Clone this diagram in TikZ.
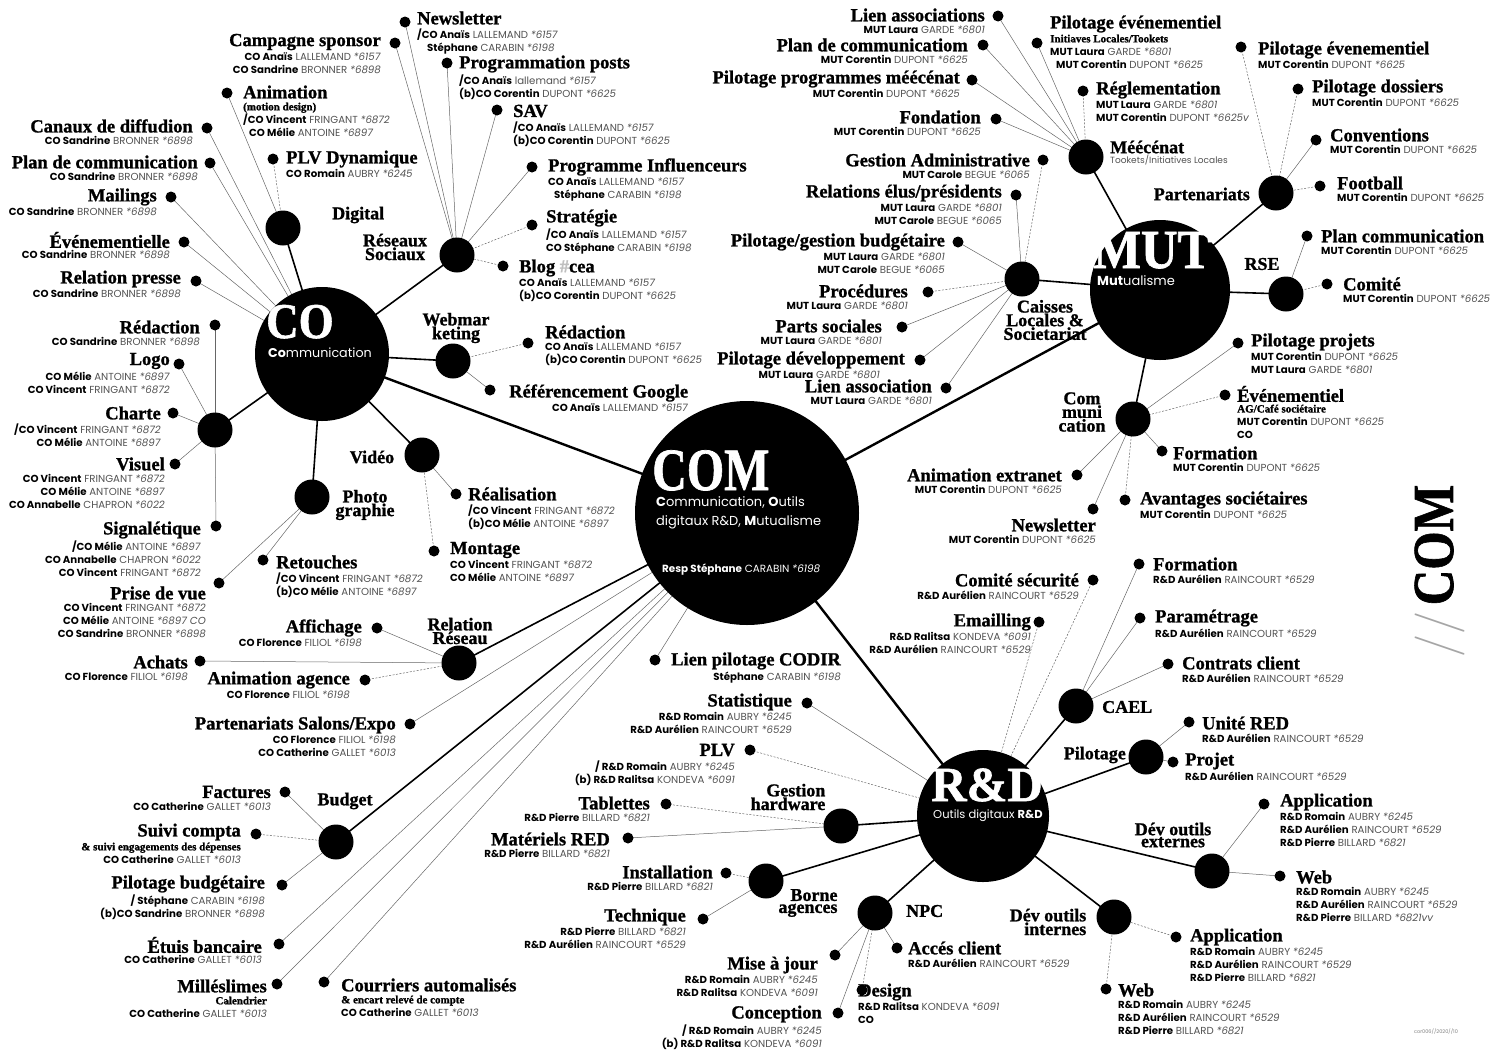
\documentclass[tikz,border=0pt]{standalone}
\usepackage{fontspec}
\setsansfont{Poppins}
\newfontfamily\ttlf{Liberation Serif}[BoldFeatures={FakeBold=1.2}]
\usetikzlibrary{calc}
\definecolor{sg}{gray}{0.32}
\pgfdeclarelayer{bg}\pgfsetlayers{bg,main}
\tikzset{
 dot/.style={circle,fill=black,inner sep=0,minimum size=11},
 hub/.style={circle,fill=black,inner sep=0,minimum size=35},
 bighub/.style={circle,fill=black,inner sep=0},
 bigword/.style={anchor=base west,inner sep=0,text=white,text depth=0pt},
 ttl/.style={inner sep=0,font=\ttlf\bfseries\fontsize{18.5}{18.5}\selectfont},
 hubl/.style={inner sep=0,align=center,font=\ttlf\bfseries\fontsize{18}{12}\selectfont},
 sub/.style={inner sep=0,font=\sffamily\fontsize{10.2}{13}\selectfont},
 lf/.style={draw=black!60,line width=0.5pt},
 lfd/.style={lf,dash pattern=on 2pt off 1.5pt},
 med/.style={line width=1.6pt},
 big/.style={line width=2.4pt},
}
\newcommand\pn[3]{\textbf{#1} {\color{sg}#2 \textit{*#3}}}
\newcommand\ser[1]{{\ttlf\bfseries\fontsize{11}{13}\selectfont #1}}
\newcommand\leafE[5]{\node[dot] (#1) at (#2) {};\node[ttl,anchor=east] (#1t) at (#3) {#4};\node[sub,anchor=north east,align=right] at ([yshift=-10.5pt]#1t.east) {#5};}
\newcommand\leafW[5]{\node[dot] (#1) at (#2) {};\node[ttl,anchor=west] (#1t) at (#3) {#4};\node[sub,anchor=north west,align=left] at ([yshift=-10.5pt]#1t.west) {#5};}
\begin{document}
\begin{tikzpicture}[x=1pt,y=-1pt]
\useasboundingbox (0,0) rectangle (1502,1050);
% ---------- big hubs
\node[bighub,minimum size=224] (com) at (747,513) {};
\node[bighub,minimum size=134] (co) at (322,354) {};
\node[bighub,minimum size=140] (mut) at (1160,290) {};
\node[bighub,minimum size=132] (rnd) at (983,816) {};
\node[bigword,font=\ttlf\bfseries\fontsize{60}{60}\selectfont] (comT) at (652,490) {\scalebox{0.8}[1]{COM}};
\node[bigword,font=\sffamily\fontsize{13}{13}\selectfont] (comS1) at (656,506) {\textbf{C}ommunication, \textbf{O}utils};
\node[bigword,font=\sffamily\fontsize{13}{13}\selectfont] (comS2) at (656,525) {digitaux R\&D, \textbf{M}utualisme};
\node[bigword,font=\sffamily\fontsize{10.4}{11}\selectfont] (comS3) at (662,572) {\textbf{Resp Stéphane} CARABIN \textit{*6198}};
\node[bigword,font=\ttlf\bfseries\fontsize{50}{50}\selectfont] (coT) at (266,338) {\scalebox{0.9}[1]{CO}};
\node[bigword,font=\sffamily\fontsize{12.7}{12.7}\selectfont] (coS) at (268,357) {\textbf{Co}mmunication};
\node[bigword,font=\ttlf\bfseries\fontsize{55}{55}\selectfont] (mutT) at (1093,268) {\scalebox{0.92}[1]{MUT}};
\node[bigword,font=\sffamily\fontsize{13}{13}\selectfont] (mutS) at (1097,285) {\textbf{Mut}ualisme};
\node[bigword,font=\ttlf\bfseries\fontsize{49}{49}\selectfont] (rndT) at (931,801) {R\&D};
\node[bigword,font=\sffamily\fontsize{11.5}{11.5}\selectfont] (rndS) at (933,818) {Outils digitaux \textbf{R\&D}};
% ---------- sub hubs
\node[hub] (dig) at (283,228) {};
\node[hub] (res) at (457,255) {};
\node[hub] (web) at (453,361) {};
\node[hub] (vid) at (422,455) {};
\node[hub] (pho) at (312,497) {};
\node[hub] (chc) at (215,430) {};
\node[hub] (rel) at (459,663) {};
\node[hub] (bud) at (336,842) {};
\node[hub] (mec) at (1086,157) {};
\node[hub] (par) at (1276,193) {};
\node[hub] (rse) at (1286,294) {};
\node[hub] (cai) at (1022,279) {};
\node[hub] (mcom) at (1133,419) {};
\node[hub] (cael) at (1076,706) {};
\node[hub] (pil) at (1146,757) {};
\node[hub] (dext) at (1212,871) {};
\node[hub] (dint) at (1114,917) {};
\node[hub] (npc) at (875,913) {};
\node[hub] (bor) at (766,881) {};
\node[hub] (ghw) at (841,826) {};
% hub labels
\node[hubl,anchor=west] (digL) at (332,215) {Digital};
\node[hubl] (resL) at (395,247) {Réseaux\\Sociaux};
\node[hubl] (webL) at (456,328) {Webmar\\keting};
\node[hubl] (vidL) at (372,457) {Vidéo};
\node[hubl] (phoL) at (365,505) {Photo\\graphie};
\node[hubl] (relL) at (460,631) {Relation\\Réseau};
\node[hubl] (budL) at (345,801) {Budget};
\node[hubl,anchor=west] (mecL) at (1110,147) {Méécénat};
\node[sub,anchor=north west,text=sg,font=\sffamily\fontsize{9}{10}\selectfont] (mecS) at (1110,155) {Tookets/Initiatives Locales};
\node[hubl,anchor=east] (parL) at (1250,194) {Partenariats};
\node[hubl] (rseL) at (1262,264) {RSE};
\node[hubl] (caiL) at (1045,320) {Caisses\\Locales \&\\Societariat};
\node[hubl] (mcomL) at (1082,412) {Com\\muni\\cation};
\node[hubl,anchor=west] (caelL) at (1102,707) {CAEL};
\node[hubl,anchor=east] (pilL) at (1126,755) {Pilotage};
\node[hubl] (dextL) at (1173,835) {Dév outils\\externes};
\node[hubl,align=right] (dintL) at (1048,922) {Dév outils\\internes};
\node[hubl,anchor=west] (npcL) at (906,911) {NPC};
\node[hubl,align=right] (borL) at (808,903) {Borne\\agences};
\node[hubl,align=right] (ghwL) at (788,797) {Gestion\\hardware};
% ---------- CO leaves
\leafE{cs}{395,43}{381,42}{Campagne sponsor}{\pn{CO Anaïs}{LALLEMAND}{6157}\\\pn{CO Sandrine}{BRONNER}{6898}}
\leafW{anim}{227,93}{243,92}{Animation}{\ser{(motion design)}\\\pn{/CO Vincent}{FRINGANT}{6872}\\\hspace*{6pt}\pn{CO Mélie}{ANTOINE}{6897}}
\leafE{can}{207,128}{193,126}{Canaux de diffudion}{\pn{CO Sandrine}{BRONNER}{6898}}
\leafE{plan}{210,163}{198,162}{Plan de communication}{\pn{CO Sandrine}{BRONNER}{6898}}
\leafE{mail}{171,197}{157,197}{Mailings}{\pn{CO Sandrine}{BRONNER}{6898}}
\leafE{eve}{184,242}{170,240}{Événementielle}{\pn{CO Sandrine}{BRONNER}{6898}}
\leafE{rp}{196,281}{181,279}{Relation presse}{\pn{CO Sandrine}{BRONNER}{6898}}
\leafW{plvd}{273,159}{286,159}{PLV Dynamique}{\pn{CO Romain}{AUBRY}{6245}}
\leafE{red}{215,325}{200,327}{Rédaction}{\pn{CO Sandrine}{BRONNER}{6898}}
\leafE{logo}{179,364}{170,361}{Logo}{\pn{CO Mélie}{ANTOINE}{6897}\\\pn{CO Vincent}{FRINGANT}{6872}}
\leafE{charte}{173,413}{161,413}{Charte}{\pn{/CO Vincent}{FRINGANT}{6872}\\\pn{CO Mélie}{ANTOINE}{6897}}
\leafE{vis}{175,464}{165,464}{Visuel}{\pn{CO Vincent}{FRINGANT}{6872}\\\pn{CO Mélie}{ANTOINE}{6897}\\\pn{CO Annabelle}{CHAPRON}{6022}}
\leafE{sig}{216,526}{201,530}{Signalétique}{\pn{/CO Mélie}{ANTOINE}{6897}\\\pn{CO Annabelle}{CHAPRON}{6022}\\\pn{CO Vincent}{FRINGANT}{6872}}
\leafW{ret}{263,560}{276,562}{Retouches}{\pn{/CO Vincent}{FRINGANT}{6872}\\\pn{(b)CO Mélie}{ANTOINE}{6897}}
\leafE{pdv}{219,583}{206,593}{Prise de vue}{\pn{CO Vincent}{FRINGANT}{6872}\\\pn{CO Mélie}{ANTOINE}{6897 CO}\\\pn{CO Sandrine}{BRONNER}{6898}}
\leafW{real}{456,494}{468,494}{Réalisation}{\pn{/CO Vincent}{FRINGANT}{6872}\\\pn{(b)CO Mélie}{ANTOINE}{6897}}
\leafW{mont}{434,551}{450,550}{Montage}{\pn{CO Vincent}{FRINGANT}{6872}\\\pn{CO Mélie}{ANTOINE}{6897}}
\leafW{wred}{528,343}{545,332}{Rédaction}{\pn{CO Anaïs}{LALLEMAND}{6157}\\\pn{(b)CO Corentin}{DUPONT}{6625}}
\node[dot] (rg) at (490,390) {};
\node[ttl,anchor=west] (rgt) at (509,393) {Référencement Google};
\node[sub,anchor=north east] (rgs) at ([yshift=-10.5pt]rgt.east) {\pn{CO Anaïs}{LALLEMAND}{6157}};
\leafW{nl}{405,22}{417,18}{Newsletter}{\pn{/CO Anaïs}{LALLEMAND}{6157}\\\hspace*{10pt}\pn{Stéphane}{CARABIN}{6198}}
\leafW{pp}{447,63}{459,64}{Programmation posts}{\pn{/CO Anaïs}{lallemand}{6157}\\\pn{(b)CO Corentin}{DUPONT}{6625}}
\leafW{sav}{497,110}{513,111}{SAV}{\pn{/CO Anaïs}{LALLEMAND}{6157}\\\pn{(b)CO Corentin}{DUPONT}{6625}}
\leafW{pi}{532,167}{548,167}{Programme Influenceurs}{\pn{CO Anaïs}{LALLEMAND}{6157}\\\hspace*{6pt}\pn{Stéphane}{CARABIN}{6198}}
\leafW{strat}{532,225}{546,218}{Stratégie}{\pn{/CO Anaïs}{LALLEMAND}{6157}\\\pn{CO Stéphane}{CARABIN}{6198}}
\leafW{blog}{503,266}{519,268}{Blog {\color{black!25}\#}cea}{\pn{CO Anaïs}{LALLEMAND}{6157}\\\pn{(b)CO Corentin}{DUPONT}{6625}}
% relation reseau, budget, COM leaves
\leafE{aff}{377,628}{362,628}{Affichage}{\pn{CO Florence}{FILIOL}{6198}}
\leafE{ach}{200,661}{188,662}{Achats}{\pn{CO Florence}{FILIOL}{6198}}
\leafE{ani}{365,680}{350,680}{Animation agence}{\pn{CO Florence}{FILIOL}{6198}}
\leafE{pse}{410,724}{396,725}{Partenariats Salons/Expo}{\pn{CO Florence}{FILIOL}{6198}\\\pn{CO Catherine}{GALLET}{6013}}
\leafE{fac}{285,792}{271,792}{Factures}{\pn{CO Catherine}{GALLET}{6013}}
\leafE{sc}{256,834}{241,832}{Suivi compta}{\ser{\& suivi engagements des dépenses}\\\pn{CO Catherine}{GALLET}{6013}}
\leafE{pb}{282,885}{265,884}{Pilotage budgétaire}{\pn{/ Stéphane}{CARABIN}{6198}\\\pn{(b)CO Sandrine}{BRONNER}{6898}}
\leafE{etu}{279,944}{262,945}{Étuis bancaire}{\pn{CO Catherine}{GALLET}{6013}}
\leafE{mil}{277,984}{267,986}{Milléslimes}{\ser{Calendrier}\\\pn{CO Catherine}{GALLET}{6013}}
\leafW{cou}{324,982}{341,985}{Courriers automalisés}{\ser{\& encart relevé de compte}\\\pn{CO Catherine}{GALLET}{6013}}
\node[dot] (lpc) at (655,660) {};
\node[ttl,anchor=west] (lpct) at (671,661) {Lien pilotage CODIR};
\node[sub,anchor=north east] (lpcs) at ([yshift=-10.5pt]lpct.east) {\pn{Stéphane}{CARABIN}{6198}};
% ---------- MUT leaves
\leafE{la}{998,16}{985,15}{Lien associations}{\pn{MUT Laura}{GARDE}{6801}}
\leafE{pc}{983,45}{968,45}{Plan de communicatiom}{\pn{MUT Corentin}{DUPONT}{6625}}
\leafE{ppm}{972,80}{960,79}{Pilotage programmes méécénat}{\pn{MUT Corentin}{DUPONT}{6625}}
\leafE{fon}{996,119}{981,117}{Fondation}{\pn{MUT Corentin}{DUPONT}{6625}}
\leafW{pev}{1037,43}{1050,24}{Pilotage événementiel}{\ser{Initiaves Locales/Tookets}\\\pn{MUT Laura}{GARDE}{6801}\\\hspace*{6pt}\pn{MUT Corentin}{DUPONT}{6625}}
\leafW{reg}{1083,91}{1096,90}{Réglementation}{\pn{MUT Laura}{GARDE}{6801}\\\pn{MUT Corentin}{DUPONT}{6625v}}
\leafE{ga}{1043,160}{1030,160}{Gestion Administrative}{\pn{MUT Carole}{BEGUE}{6065}}
\leafE{rep}{1016,195}{1002,193}{Relations élus/présidents}{\pn{MUT Laura}{GARDE}{6801}\\\pn{MUT Carole}{BEGUE}{6065}}
\leafE{pgb}{958,242}{945,242}{Pilotage/gestion budgétaire}{\pn{MUT Laura}{GARDE}{6801}\\\pn{MUT Carole}{BEGUE}{6065}}
\leafE{proc}{928,292}{908,291}{Procédures}{\pn{MUT Laura}{GARDE}{6801}}
\leafE{ps}{902,327}{882,326}{Parts sociales}{\pn{MUT Laura}{GARDE}{6801}}
\leafE{pdev}{920,360}{905,360}{Pilotage développement}{\pn{MUT Laura}{GARDE}{6801}\hspace*{25pt}}
\leafE{lass}{946,388}{932,386}{Lien association}{\pn{MUT Laura}{GARDE}{6801}}
\leafW{pev2}{1241,47}{1258,50}{Pilotage évenementiel}{\pn{MUT Corentin}{DUPONT}{6625}}
\leafW{pdos}{1298,89}{1312,88}{Pilotage dossiers}{\pn{MUT Corentin}{DUPONT}{6625}}
\leafW{conv}{1316,140}{1330,135}{Conventions}{\pn{MUT Corentin}{DUPONT}{6625}}
\leafW{fball}{1320,186}{1337,183}{Football}{\pn{MUT Corentin}{DUPONT}{6625}}
\leafW{plc}{1307,236}{1321,236}{Plan communication}{\pn{MUT Corentin}{DUPONT}{6625}}
\leafW{comi}{1327,284}{1343,284}{Comité}{\pn{MUT Corentin}{DUPONT}{6625}}
\leafW{pproj}{1238,343}{1251,342}{Pilotage projets}{\pn{MUT Corentin}{DUPONT}{6625}\\\pn{MUT Laura}{GARDE}{6801}}
\leafW{mev}{1225,395}{1237,394}{Événementiel}{\ser{AG/Café sociétaire}\\\pn{MUT Corentin}{DUPONT}{6625}\\\textbf{CO}}
\leafW{mfor}{1162,451}{1173,453}{Formation}{\pn{MUT Corentin}{DUPONT}{6625}}
\leafW{avs}{1125,500}{1140,500}{Avantages sociétaires}{\pn{MUT Corentin}{DUPONT}{6625}}
\leafE{aext}{1077,475}{1062,475}{Animation extranet}{\pn{MUT Corentin}{DUPONT}{6625}}
\leafE{mnl}{1093,509}{1096,525}{Newsletter}{\pn{MUT Corentin}{DUPONT}{6625}}
% ---------- R&D leaves
\leafE{csec}{1093,580}{1079,580}{Comité sécurité}{\pn{R\&D Aurélien}{RAINCOURT}{6529}}
\leafE{emai}{1039,622}{1031,622}{Emailling}{\pn{R\&D Ralitsa}{KONDEVA}{6091}\\\pn{R\&D Aurélien}{RAINCOURT}{6529}}
\leafE{stat}{807,703}{792,702}{Statistique}{\pn{R\&D Romain}{AUBRY}{6245}\\\pn{R\&D Aurélien}{RAINCOURT}{6529}}
\leafE{plv}{750,750}{735,750}{PLV}{\pn{/ R\&D Romain}{AUBRY}{6245}\\\pn{(b) R\&D Ralitsa}{KONDEVA}{6091}}
\leafW{rfor}{1139,564}{1153,564}{Formation}{\pn{R\&D Aurélien}{RAINCOURT}{6529}}
\leafW{param}{1140,618}{1155,618}{Paramétrage}{\pn{R\&D Aurélien}{RAINCOURT}{6529}}
\leafW{cc}{1168,664}{1182,663}{Contrats client}{\pn{R\&D Aurélien}{RAINCOURT}{6529}}
\leafW{ured}{1189,722}{1202,723}{Unité RED}{\pn{R\&D Aurélien}{RAINCOURT}{6529}}
\leafW{proj}{1173,762}{1185,761}{Projet}{\pn{R\&D Aurélien}{RAINCOURT}{6529}}
\leafW{eapp}{1264,804}{1280,802}{Application}{\pn{R\&D Romain}{AUBRY}{6245}\\\pn{R\&D Aurélien}{RAINCOURT}{6529}\\\pn{R\&D Pierre}{BILLARD}{6821}}
\leafW{eweb}{1280,876}{1296,877}{Web}{\pn{R\&D Romain}{AUBRY}{6245}\\\pn{R\&D Aurélien}{RAINCOURT}{6529}\\\pn{R\&D Pierre}{BILLARD}{6821vv}}
\leafW{iapp}{1176,937}{1190,937}{Application}{\pn{R\&D Romain}{AUBRY}{6245}\\\pn{R\&D Aurélien}{RAINCOURT}{6529}\\\pn{R\&D Pierre}{BILLARD}{6821}}
\leafW{iweb}{1106,989}{1118,990}{Web}{\pn{R\&D Romain}{AUBRY}{6245}\\\pn{R\&D Aurélien}{RAINCOURT}{6529}\\\pn{R\&D Pierre}{BILLARD}{6821}}
\leafW{acc}{897,948}{908,948}{Accés client}{\pn{R\&D Aurélien}{RAINCOURT}{6529}}
\leafW{des}{862,990}{858,992}{Design}{\pn{R\&D Ralitsa}{KONDEVA}{6091}\\\textbf{CO}}
\leafE{maj}{835,955}{818,965}{Mise à jour}{\pn{R\&D Romain}{AUBRY}{6245}\\\pn{R\&D Ralitsa}{KONDEVA}{6091}}
\leafE{conc}{838,1013}{822,1014}{Conception}{\pn{/ R\&D Romain}{AUBRY}{6245}\\\pn{(b) R\&D Ralitsa}{KONDEVA}{6091}}
\leafE{inst}{726,873}{713,872}{Installation}{\pn{R\&D Pierre}{BILLARD}{6821}}
\leafE{tech}{703,919}{686,917}{Technique}{\pn{R\&D Pierre}{BILLARD}{6821}\\\pn{R\&D Aurélien}{RAINCOURT}{6529}}
\leafE{tab}{666,804}{650,803}{Tablettes}{\pn{R\&D Pierre}{BILLARD}{6821}}
\leafE{mat}{628,838}{610,839}{Matériels RED}{\pn{R\&D Pierre}{BILLARD}{6821}}
% ---------- side title and footer
\node[rotate=90,inner sep=0] (vcom) at (1440,571) {{\color{black!35}\mdseries\fontsize{50}{50}\selectfont //}\hspace{6pt}{\ttlf\bfseries\fontsize{58}{58}\selectfont\scalebox{0.85}[1]{COM}}};
\node[inner sep=0,font=\sffamily\fontsize{5}{5}\selectfont,text=black!50] (footer) at (1436,1032) {cor006//2020//10};
% ---------- connectors
\begin{pgfonlayer}{bg}
\draw[big] (co.center)--(com.center);
\draw[big] (mut.center)--(com.center);
\draw[big] (com.center)--(rnd.center);
\foreach \a/\b in {co/dig,co/res,co/web,co/vid,co/pho,co/chc,com/rel,com/bud,mut/mec,mut/par,mut/rse,mut/cai,mut/mcom,rnd/cael,rnd/pil,rnd/dext,rnd/dint,rnd/npc,rnd/bor,rnd/ghw}
 \draw[med] (\a.center)--(\b.center);
\foreach \a/\b in {cs/res,nl/res,pp/res,sav/res,pi/res,anim/dig,can/co,plan/co,mail/co,eve/co,rp/co,red/chc,logo/chc,charte/chc,vis/chc,sig/chc,ret/pho,pdv/pho,real/vid,rg/web,aff/rel,ach/rel,pse/com,fac/bud,pb/bud,etu/com,mil/com,cou/com,lpc/com,la/mec,pc/mec,ppm/mec,fon/mec,pev/mec,rep/cai,pgb/cai,ps/cai,pdev/cai,lass/cai,conv/par,plc/rse,pproj/mcom,mfor/mcom,aext/mcom,mnl/mcom,stat/rnd,rfor/cael,param/cael,cc/cael,ured/pil,proj/pil,eapp/dext,eweb/dext,acc/npc,maj/npc,conc/npc,tech/bor,mat/ghw}
 \draw[lf] (\a.center)--(\b.center);
\foreach \a/\b in {plvd/dig,strat/res,blog/res,wred/web,mont/vid,ani/rel,sc/bud,reg/mec,ga/cai,proc/cai,pev2/par,pdos/par,fball/par,comi/rse,mev/mcom,avs/mcom,csec/rnd,emai/rnd,plv/rnd,iapp/dint,iweb/dint,des/npc,inst/bor,tab/ghw}
 \draw[lfd] (\a.center)--(\b.center);
\end{pgfonlayer}
\end{tikzpicture}
\end{document}
